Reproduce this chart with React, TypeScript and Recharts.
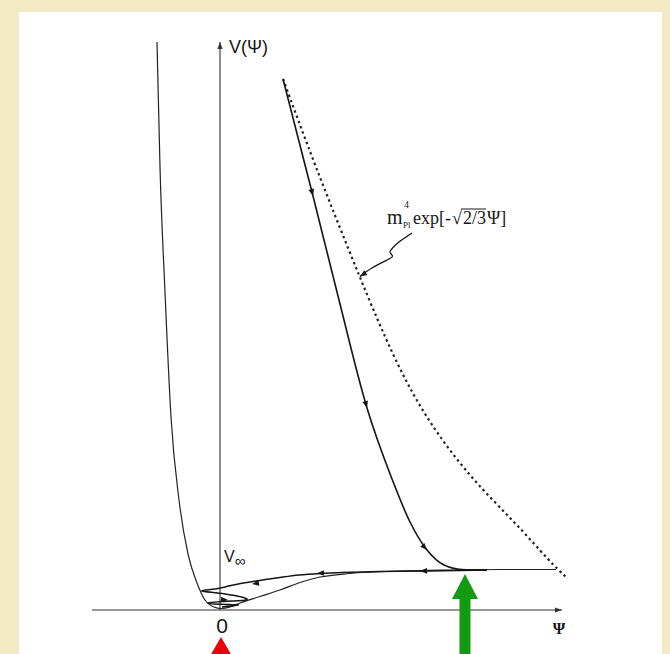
import React from "react";
import { ComposedChart, Line, XAxis, YAxis, ReferenceLine, ReferenceDot } from "recharts";

type Pt = { x: number; y: number };

// V(psi): steep wall on the left, minimum at psi = 0, plateau V_inf on the right
const potential: Pt[] = [
  { x: -1.28, y: 11.36 }, { x: -1.22, y: 8.86 }, { x: -1.12, y: 6.36 }, { x: -1.0, y: 3.86 },
  { x: -0.84, y: 2.2 }, { x: -0.66, y: 1.12 }, { x: -0.48, y: 0.54 }, { x: -0.32, y: 0.2 },
  { x: -0.14, y: 0.06 }, { x: 0.0, y: 0.03 }, { x: 0.18, y: 0.06 }, { x: 0.38, y: 0.14 },
  { x: 0.78, y: 0.27 }, { x: 1.18, y: 0.4 }, { x: 1.58, y: 0.55 }, { x: 1.98, y: 0.66 },
  { x: 2.58, y: 0.73 }, { x: 3.58, y: 0.78 }, { x: 4.58, y: 0.8 }, { x: 5.58, y: 0.81 },
  { x: 6.7, y: 0.81 },
];

// field rolling down from large V
const trajectoryDown: Pt[] = [
  { x: 1.24, y: 10.62 }, { x: 1.84, y: 8.28 }, { x: 2.32, y: 6.36 }, { x: 2.92, y: 4.04 },
  { x: 3.42, y: 2.62 }, { x: 3.78, y: 1.76 }, { x: 4.12, y: 1.2 }, { x: 4.46, y: 0.9 },
  { x: 4.82, y: 0.81 }, { x: 5.32, y: 0.8 },
];

// along the plateau back to the minimum, then damped oscillation
const trajectoryBack: Pt[] = [
  { x: 5.32, y: 0.8 }, { x: 4.78, y: 0.79 }, { x: 4.12, y: 0.78 }, { x: 3.18, y: 0.77 },
  { x: 2.42, y: 0.75 }, { x: 1.98, y: 0.73 }, { x: 1.56, y: 0.7 }, { x: 1.18, y: 0.65 },
  { x: 0.7, y: 0.58 }, { x: 0.2, y: 0.49 }, { x: -0.12, y: 0.42 }, { x: -0.38, y: 0.38 },
  { x: 0.08, y: 0.32 }, { x: 0.52, y: 0.22 }, { x: 0.22, y: 0.18 }, { x: -0.26, y: 0.14 },
  { x: 0.14, y: 0.11 }, { x: 0.34, y: 0.1 }, { x: 0.02, y: 0.06 },
];

// m_Pl^4 exp[-sqrt(2/3) psi]
const expCurve: Pt[] = [
  { x: 1.24, y: 10.62 }, { x: 1.9, y: 8.86 }, { x: 2.76, y: 6.7 }, { x: 3.44, y: 5.12 },
  { x: 4.12, y: 3.86 }, { x: 4.98, y: 2.7 }, { x: 5.84, y: 1.78 }, { x: 6.52, y: 1.04 },
  { x: 6.9, y: 0.66 },
];

const pointer: Pt[] = [
  { x: 3.82, y: 7.54 }, { x: 3.56, y: 7.36 }, { x: 3.44, y: 7.25 }, { x: 3.38, y: 7.16 },
  { x: 3.43, y: 7.08 }, { x: 3.32, y: 7.0 }, { x: 3.02, y: 6.84 }, { x: 2.78, y: 6.67 },
];

// arrowheads: [from, tip]
const flowArrows: [Pt, Pt][] = [
  [{ x: 1.74, y: 8.68 }, { x: 1.84, y: 8.28 }],
  [{ x: 2.8, y: 4.5 }, { x: 2.92, y: 4.04 }],
  [{ x: 3.94, y: 1.4 }, { x: 4.12, y: 1.2 }],
  [{ x: 4.4, y: 0.79 }, { x: 3.98, y: 0.78 }],
  [{ x: 2.2, y: 0.745 }, { x: 1.92, y: 0.735 }],
  [{ x: 0.9, y: 0.56 }, { x: 0.62, y: 0.52 }],
  [{ x: 0.0, y: 0.21 }, { x: 0.14, y: 0.2 }],
  [{ x: 2.9, y: 6.75 }, { x: 2.78, y: 6.67 }],
];

const psiAxis: [Pt, Pt] = [{ x: -2.58, y: 0 }, { x: 6.82, y: 0 }];
const vAxis: [Pt, Pt] = [{ x: -0.02, y: 0 }, { x: -0.02, y: 11.36 }];

const labelVPsi: Pt = { x: 0.16, y: 11.14 };
const labelVInf: Pt = { x: 0.06, y: 0.96 };
const labelZero: Pt = { x: 0.02, y: -0.46 };
const labelPsi: Pt = { x: 6.76, y: -0.48 };
const labelExp: Pt = { x: 3.32, y: 7.72 };
const redMark: Pt = { x: 0.0, y: -0.54 };
const greenMark: Pt = { x: 4.88, y: 0.72 };

const INK = "#151515";

function head(x1: number, y1: number, x2: number, y2: number, L: number, W: number) {
  const a = Math.atan2(y2 - y1, x2 - x1);
  const bx = x2 - L * Math.cos(a);
  const by = y2 - L * Math.sin(a);
  const s = Math.sin(a), c = Math.cos(a);
  return `${x2},${y2} ${bx - W * s},${by + W * c} ${bx + W * s},${by - W * c}`;
}

const ArrowHead = (p: any) => {
  if (p.x1 == null) return <g />;
  return <polygon points={head(p.x1, p.y1, p.x2, p.y2, 7, 2.8)} fill={INK} />;
};

const AxisArrow = (p: any) => {
  if (p.x1 == null) return <g />;
  return (
    <g>
      <line x1={p.x1} y1={p.y1} x2={p.x2} y2={p.y2} stroke="#333" strokeWidth={1.1} />
      <polygon points={head(p.x1, p.y1, p.x2, p.y2, 7, 2.6)} fill="#333" />
    </g>
  );
};

const sans = "'Liberation Sans', Arial, sans-serif";
const serif = "'Liberation Serif', 'Times New Roman', serif";

export default function App() {
  return (
    <div style={{ position: "absolute", left: 0, top: 0, width: 670, height: 654, background: "#f2e9c5", overflow: "hidden" }}>
      <div style={{ position: "absolute", left: 19, top: 12, width: 643, height: 700, background: "#ffffff" }} />
      <div style={{ position: "absolute", left: 0, top: 0 }}>
        <ComposedChart width={670} height={654} margin={{ top: 0, right: 0, bottom: 0, left: 0 }}>
          <XAxis type="number" dataKey="x" domain={[-4.42, 8.98]} allowDataOverflow hide />
          <YAxis type="number" dataKey="y" domain={[-0.88, 12.2]} allowDataOverflow hide />

          <ReferenceLine segment={psiAxis} shape={AxisArrow} ifOverflow="visible" />
          <ReferenceLine segment={vAxis} shape={AxisArrow} ifOverflow="visible" />

          <Line data={expCurve} dataKey="y" type="natural" stroke="#222" strokeWidth={2.2}
            strokeDasharray="2.4 3.2" dot={false} activeDot={false} isAnimationActive={false} />
          <Line data={potential} dataKey="y" type="monotoneX" stroke="#222" strokeWidth={1.2}
            dot={false} activeDot={false} isAnimationActive={false} />
          <Line data={trajectoryDown} dataKey="y" type="monotoneX" stroke={INK} strokeWidth={1.6}
            dot={false} activeDot={false} isAnimationActive={false} />
          <Line data={trajectoryBack} dataKey="y" type="natural" stroke={INK} strokeWidth={1.5}
            dot={false} activeDot={false} isAnimationActive={false} />
          <Line data={pointer} dataKey="y" type="natural" stroke={INK} strokeWidth={1.3}
            dot={false} activeDot={false} isAnimationActive={false} />

          {flowArrows.map((seg, i) => (
            <ReferenceLine key={i} segment={seg} shape={ArrowHead} ifOverflow="visible" />
          ))}

          <ReferenceDot x={labelVPsi.x} y={labelVPsi.y} r={1} ifOverflow="visible"
            shape={(p: any) => (
              <text x={p.cx} y={p.cy} fontFamily={sans} fontSize={18} fill={INK}>V(Ψ)</text>
            )} />
          <ReferenceDot x={labelVInf.x} y={labelVInf.y} r={1} ifOverflow="visible"
            shape={(p: any) => (
              <text x={p.cx} y={p.cy} fontFamily={sans} fontSize={16} fill={INK}>
                V<tspan fontSize={15} dy={4}>∞</tspan>
              </text>
            )} />
          <ReferenceDot x={labelZero.x} y={labelZero.y} r={1} ifOverflow="visible"
            shape={(p: any) => (
              <text x={p.cx} y={p.cy} textAnchor="middle" fontFamily={sans} fontSize={21} fill={INK}>0</text>
            )} />
          <ReferenceDot x={labelPsi.x} y={labelPsi.y} r={1} ifOverflow="visible"
            shape={(p: any) => (
              <text x={p.cx} y={p.cy} textAnchor="middle" fontFamily={serif} fontWeight="bold" fontSize={16} fill={INK}>Ψ</text>
            )} />
          <ReferenceDot x={labelExp.x} y={labelExp.y} r={1} ifOverflow="visible"
            shape={(p: any) => (
              <g fill={INK} fontFamily={serif}>
                <text x={p.cx} y={p.cy} fontSize={20}>m</text>
                <text x={p.cx + 16} y={p.cy + 4} fontSize={9}>Pl</text>
                <text x={p.cx + 17} y={p.cy - 16} fontSize={10}>4</text>
                <text x={p.cx + 26} y={p.cy} fontSize={18}>exp[-</text>
                <text x={p.cx + 65} y={p.cy} fontSize={18}>√</text>
                <line x1={p.cx + 74} y1={p.cy - 15} x2={p.cx + 99} y2={p.cy - 15} stroke={INK} strokeWidth={1} />
                <text x={p.cx + 76} y={p.cy} fontSize={18}>2/3</text>
                <text x={p.cx + 100} y={p.cy} fontSize={18}>Ψ]</text>
              </g>
            )} />

          <ReferenceDot x={redMark.x} y={redMark.y} r={1} ifOverflow="visible"
            shape={(p: any) => (
              <polygon points={`${p.cx},${p.cy} ${p.cx - 11},${p.cy + 19} ${p.cx + 11},${p.cy + 19}`} fill="#e8000a" />
            )} />
          <ReferenceDot x={greenMark.x} y={greenMark.y} r={1} ifOverflow="visible"
            shape={(p: any) => (
              <g fill="#129a12">
                <polygon points={`${p.cx},${p.cy} ${p.cx - 13},${p.cy + 25} ${p.cx + 13},${p.cy + 25}`} />
                <rect x={p.cx - 5.5} y={p.cy + 24} width={11} height={70} />
              </g>
            )} />
        </ComposedChart>
      </div>
    </div>
  );
}
